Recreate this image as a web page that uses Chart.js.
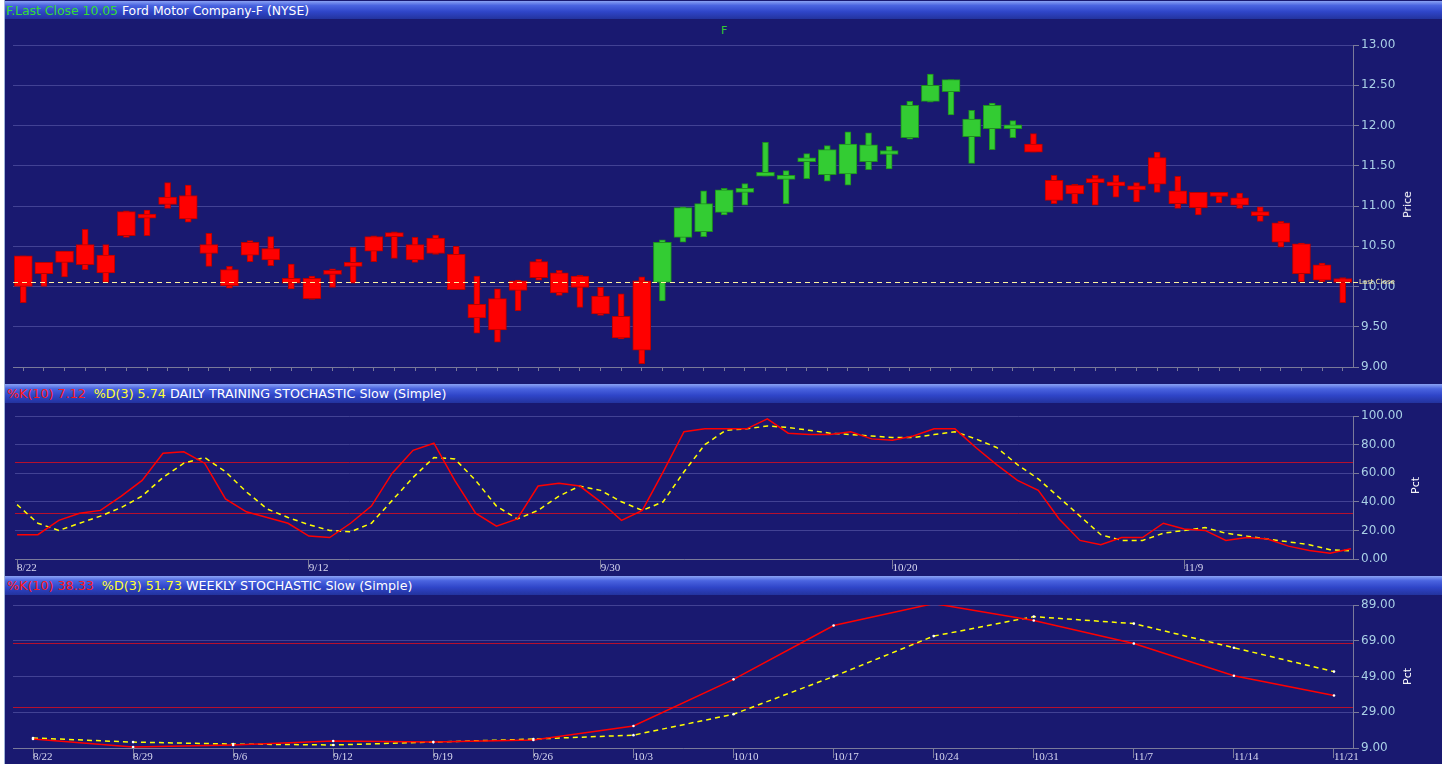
<!DOCTYPE html>
<html><head><meta charset="utf-8">
<script src="https://cdn.jsdelivr.net/npm/chart.js@4.4.0/dist/chart.umd.min.js"></script>
<style>
html,body{margin:0;padding:0;background:#ffffff;width:1442px;height:764px;overflow:hidden;font-family:"DejaVu Sans",sans-serif;}
#wrap{position:absolute;left:4px;top:0;width:1438px;height:764px;background:#191970;border-left:1px solid #9fb4d8;box-sizing:border-box;}
.hdr{position:absolute;left:0;width:1438px;background:linear-gradient(#8aa2f4 0%,#4a64e0 25%,#2f45c8 60%,#23339e 100%);font-size:12.4px;color:#ffffff;white-space:pre;box-sizing:border-box;padding-left:1px;}
.h2{font-size:12.7px;padding-left:2px;}
.cv{position:absolute;left:0;width:1438px;}
.ttl{position:absolute;color:#ffffff;font-size:11px;transform:rotate(-90deg);transform-origin:center center;white-space:nowrap;}
</style>
</head><body>
<div id="wrap">
  <div class="hdr" style="top:1px;height:18px;line-height:19px;"><span style="color:#33dd33">F.Last Close 10.05</span> Ford Motor Company-F (NYSE)</div>
  <div style="position:absolute;left:716px;top:24px;color:#33cc33;font-size:11px;">F</div>
  <div class="cv" style="top:19px;height:364px;"><canvas id="c1"></canvas></div>
  <div class="ttl" id="t1" style="left:1389px;top:198px;">Price</div>

  <div class="hdr h2" style="top:384px;height:19px;line-height:20px;"><span style="color:#ff1a1a">%K(10) 7.12</span>  <span style="color:#ffff33">%D(3) 5.74</span> DAILY TRAINING STOCHASTIC Slow (Simple)</div>
  <div class="cv" style="top:403px;height:173px;"><canvas id="c2"></canvas></div>
  <div class="ttl" style="left:1402px;top:479px;">Pct</div>

  <div class="hdr h2" style="top:576px;height:19px;line-height:20px;"><span style="color:#ff1a1a">%K(10) 38.33</span>  <span style="color:#ffff33">%D(3) 51.73</span> WEEKLY STOCHASTIC Slow (Simple)</div>
  <div class="cv" style="top:595px;height:169px;"><canvas id="c3"></canvas></div>
  <div class="ttl" style="left:1394px;top:670px;">Pct</div>
</div>
<script>
// ---------------- DATA ----------------
const dates = ["8/22","8/23","8/24","8/25","8/26","8/29","8/30","8/31","9/1","9/2",
  "9/6","9/7","9/8","9/9","9/12","9/13","9/14","9/15","9/16","9/19",
  "9/20","9/21","9/22","9/23","9/26","9/27","9/28","9/29","9/30","10/3",
  "10/4","10/5","10/6","10/7","10/10","10/11","10/12","10/13","10/14","10/17",
  "10/18","10/19","10/20","10/21","10/24","10/25","10/26","10/27","10/28","10/31",
  "11/1","11/2","11/3","11/4","11/7","11/8","11/9","11/10","11/11","11/14",
  "11/15","11/16","11/17","11/18","11/21"];

const openPrices = [10.38,10.30,10.44,10.52,10.39,10.93,10.87,11.11,11.13,10.52,
  10.21,10.55,10.47,10.10,10.10,10.17,10.30,10.62,10.64,10.52,
  10.60,10.40,9.78,9.85,10.07,10.31,10.17,10.13,9.88,9.63,
  10.07,10.05,10.61,10.68,10.92,11.17,11.37,11.33,11.55,11.39,
  11.40,11.55,11.64,11.85,12.30,12.42,11.86,11.96,11.96,11.77,
  11.32,11.26,11.31,11.27,11.22,11.60,11.19,11.17,11.14,11.10,
  10.90,10.79,10.53,10.27,10.07];
const highPrices = [10.38,10.30,10.44,10.71,10.52,10.94,10.95,11.29,11.26,10.66,
  10.25,10.57,10.62,10.28,10.13,10.22,10.49,10.63,10.68,10.61,
  10.64,10.50,10.13,9.97,10.08,10.34,10.20,10.14,9.99,9.91,
  10.12,10.58,10.99,11.19,11.22,11.28,11.79,11.44,11.65,11.75,
  11.92,11.91,11.74,12.30,12.64,12.57,12.19,12.28,12.06,11.90,
  11.38,11.27,11.38,11.38,11.29,11.67,11.37,11.17,11.17,11.16,
  10.99,10.81,10.54,10.29,10.11];
const lowPrices = [9.80,10.00,10.12,10.21,10.05,10.61,10.63,10.97,10.80,10.25,
  9.98,10.31,10.26,9.97,9.84,9.99,10.04,10.31,10.35,10.30,
  10.40,9.96,9.42,9.31,9.70,10.08,9.89,9.74,9.64,9.35,
  9.04,9.82,10.55,10.62,10.89,11.01,11.37,11.03,11.34,11.31,
  11.26,11.45,11.46,11.83,12.29,12.13,11.53,11.70,11.85,11.67,
  11.03,11.03,11.01,11.11,11.05,11.17,10.97,10.89,11.04,10.97,
  10.81,10.49,10.06,10.06,9.80];
const closePrices = [10.00,10.16,10.30,10.27,10.17,10.63,10.85,11.02,10.84,10.41,
  10.01,10.39,10.33,10.04,9.85,10.15,10.25,10.44,10.62,10.33,
  10.41,9.96,9.61,9.46,9.95,10.11,9.92,9.99,9.66,9.36,
  9.21,10.55,10.98,11.03,11.20,11.22,11.39,11.36,11.57,11.70,
  11.77,11.76,11.67,12.25,12.50,12.57,12.08,12.25,11.98,11.67,
  11.07,11.15,11.29,11.25,11.20,11.27,11.03,10.98,11.12,11.01,
  10.88,10.55,10.16,10.08,10.05];
const lastClose = 10.05;
const priceTicks = [9.00,9.50,10.00,10.50,11.00,11.50,12.00,12.50,13.00];

const dailyK = [17,17,27,32,34,44,55,74,75,67,
  42,33,29,25,16,15,25,37,60,76,
  81,55,32,23,28,51,53,51,40,27,
  34,61,89,91,91,91,98,88,87,87,
  89,84,83,86,91,91,78,66,55,48,
  28,13,10,15,15,25,21,20,13,15,
  14,9,6,4,7.12];
const dailyD = [38,25,20,25,30,36,44,57,67,71,
  61,47,35,29,24,20,19,25,41,57,
  71,70,55,37,28,34,44,51,48,40,
  34,40,61,80,90,91,93,92,90,88,
  87,86,85,85,87,89,84,78,66,56,
  43,30,17,13,13,18,20,22,18,16,
  14,12,10,6.5,5.74];
const dailyTicks = [0,20,40,60,80,100];

const weeks = ["8/22","8/29","9/6","9/12","9/19","9/26","10/3","10/10","10/17","10/24","10/31","11/7","11/14","11/21"];
const weeklyK = [14.0,9.6,10.7,12.9,12.3,13.5,21.3,47.4,77.5,89.8,80.3,67.5,49.4,38.33];
const weeklyD = [14.6,12.3,11.2,10.7,12.3,14.0,16.2,27.9,49.0,71.6,82.5,78.6,65.1,51.73];
const weeklyTicks = [9,29,49,69,89];
const overbought = 68, oversold = 32;

// ---------------- STYLE ----------------
const BG_GRID = 'rgba(80,80,160,0.75)';
const AXIS = '#7a7a9a';
const TICK_COL = '#a9cfe6';
const XTICK_COL = '#d8d8f0';
const RED = '#ff0000', RED_B = '#b80000';
const GREEN = '#33cc33', GREEN_B = '#1f8f1f';

const refLines = {
  id: 'refLines',
  beforeDatasetsDraw(chart, args, opts) { draw(chart, opts, true); },
  afterDatasetsDraw(chart, args, opts) { draw(chart, opts, false); }
};
function draw(chart, opts, before) {
  const {ctx, chartArea, scales} = chart;
  (opts.lines || []).forEach(l => {
    if (!!l.before !== before) return;
    const y = Math.round(scales.y.getPixelForValue(l.value)) + 0.5;
    ctx.save();
    ctx.strokeStyle = l.color; ctx.lineWidth = l.width || 1;
    ctx.setLineDash(l.dash || []);
    ctx.beginPath(); ctx.moveTo(chartArea.left, y); ctx.lineTo(chartArea.right, y); ctx.stroke();
    if (l.label) {
      ctx.setLineDash([]);
      ctx.beginPath(); ctx.moveTo(chartArea.right, y); ctx.lineTo(chartArea.right + 5, y); ctx.stroke();
      ctx.fillStyle = l.color; ctx.font = '7px "DejaVu Sans"';
      ctx.textBaseline = 'middle'; ctx.textAlign = 'left';
      ctx.fillText(l.label, chartArea.right + 6, y);
    }
    ctx.restore();
  });
}

function yAxis(min, max, step, ticksVals) {
  return {
    type: 'linear', position: 'right', min: min, max: max,
    afterBuildTicks: s => { s.ticks = ticksVals.map(v => ({value: v})); },
    afterFit: s => { s.width = 90; },
    ticks: { color: TICK_COL, font: {family: 'DejaVu Sans', size: 12}, padding: 2, callback: v => Number(v).toFixed(2) },
    grid: { color: BG_GRID, tickColor: AXIS, tickLength: 6, lineWidth: 1 },
    border: { color: AXIS, width: 1 }
  };
}

Chart.defaults.animation = false;
Chart.defaults.responsive = true;
Chart.defaults.maintainAspectRatio = false;
Chart.defaults.plugins.legend.display = false;
Chart.defaults.plugins.tooltip.enabled = false;

// ---------------- PRICE ----------------
const candleColor = ctx => closePrices[ctx.dataIndex] < openPrices[ctx.dataIndex] ? RED : GREEN;
const candleBorder = ctx => closePrices[ctx.dataIndex] < openPrices[ctx.dataIndex] ? RED_B : GREEN_B;

new Chart(document.getElementById('c1'), {
  type: 'bar',
  data: {
    labels: dates,
    datasets: [
      { label: 'Body', data: dates.map((d, i) => [openPrices[i], closePrices[i]]),
        backgroundColor: candleColor, borderColor: candleBorder, borderWidth: 1, borderSkipped: false,
        barThickness: 18, minBarLength: 4, grouped: false, order: 0 },
      { label: 'Range', data: dates.map((d, i) => [lowPrices[i], highPrices[i]]),
        backgroundColor: candleColor, borderColor: candleBorder, borderWidth: 1, borderSkipped: false,
        barThickness: 6, grouped: false, order: 1 }
    ]
  },
  options: {
    layout: { padding: { left: 8, right: 0, top: 26, bottom: 10 } },
    scales: {
      x: { type: 'category', offset: true,
           afterFit: s => { s.height = 6; },
           ticks: { display: false },
           grid: { display: true, drawOnChartArea: false, offset: false, tickLength: 4, tickColor: AXIS },
           border: { color: AXIS } },
      y: yAxis(9, 13, 0.5, priceTicks)
    },
    plugins: { refLines: { lines: [ { value: lastClose, color: '#fff3a0', dash: [5, 4], width: 1, label: 'Last Close' } ] } }
  },
  plugins: [refLines]
});

// ---------------- STOCHASTICS ----------------
function xLinear(min, max, step, labels, h) {
  return {
    type: 'linear', min: min, max: max,
    afterBuildTicks: s => { const t = []; for (let v = 0; v < labels.length; v += step) t.push({value: v}); s.ticks = t; },
    afterFit: s => { s.height = h; },
    ticks: { color: XTICK_COL, align: 'start', padding: -7, font: {family: 'Liberation Sans Narrow', size: 11},
             callback: v => labels[v] !== undefined ? labels[v] : '' , maxRotation: 0, autoSkip: false },
    grid: { drawOnChartArea: false, tickLength: 10, tickColor: AXIS },
    border: { color: AXIS }
  };
}

new Chart(document.getElementById('c2'), {
  type: 'line',
  data: {
    datasets: [
      { label: '%K', data: dailyK.map((v, i) => ({x: i, y: v})), borderColor: RED, borderWidth: 1.5, pointRadius: 0, tension: 0 },
      { label: '%D', data: dailyD.map((v, i) => ({x: i, y: v})), borderColor: '#ffff00', borderWidth: 1.5, borderDash: [5, 4], pointRadius: 0, tension: 0 }
    ]
  },
  options: {
    layout: { padding: { left: 10, right: 0, top: 13, bottom: 0 } },
    scales: { x: xLinear(-0.1, 64.1, 14, dates, 17), y: yAxis(0, 100, 20, dailyTicks) },
    plugins: { refLines: { lines: [
      { value: overbought, color: '#b5102e', before: true },
      { value: oversold, color: '#b5102e', before: true } ] } }
  },
  plugins: [refLines]
});

new Chart(document.getElementById('c3'), {
  type: 'line',
  data: {
    datasets: [
      { label: '%K', data: weeklyK.map((v, i) => ({x: i, y: v})), borderColor: RED, borderWidth: 1.5,
        pointRadius: 1.3, pointBackgroundColor: '#ffffff', pointBorderWidth: 0, tension: 0 },
      { label: '%D', data: weeklyD.map((v, i) => ({x: i, y: v})), borderColor: '#ffff00', borderWidth: 1.5, borderDash: [5, 4],
        pointRadius: 1.3, pointBackgroundColor: '#ffffff', pointBorderWidth: 0, tension: 0 }
    ]
  },
  options: {
    layout: { padding: { left: 8, right: 0, top: 10, bottom: 0 } },
    scales: { x: xLinear(-0.2, 13.19, 1, weeks, 16), y: yAxis(9, 89, 20, weeklyTicks) },
    plugins: { refLines: { lines: [
      { value: overbought, color: '#b5102e', before: true },
      { value: oversold, color: '#b5102e', before: true } ] } }
  },
  plugins: [refLines]
});
</script>
</body></html>
